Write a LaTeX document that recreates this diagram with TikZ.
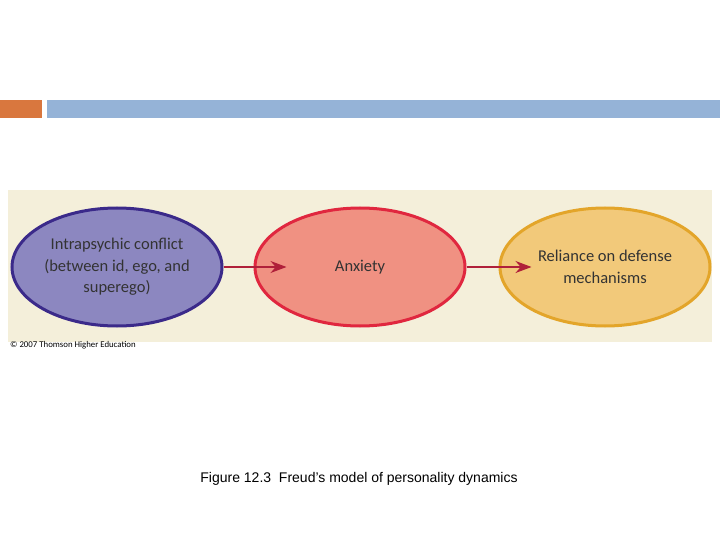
\documentclass[tikz,border=0pt]{standalone}
\usepackage{fontspec}
\setmainfont{Liberation Sans}
\newfontfamily\lab{Carlito}
\usetikzlibrary{arrows.meta,shapes.geometric}
\definecolor{cpur}{HTML}{8C87C0}\definecolor{dpur}{HTML}{3B2A8A}
\definecolor{cred}{HTML}{F09182}\definecolor{dred}{HTML}{E0273F}
\definecolor{cyel}{HTML}{F2C97A}\definecolor{dyel}{HTML}{E3A52A}
\definecolor{beige}{HTML}{F4EFDA}\definecolor{arr}{HTML}{B0203A}
\definecolor{band}{HTML}{95B3D7}\definecolor{orng}{HTML}{D9773E}
\tikzset{ell/.style={ellipse,inner sep=0pt,minimum width=210pt,minimum height=118pt,line width=3pt,align=center,font=\lab\fontsize{16.5}{21.5}\selectfont,text=black!80},
flow/.style={arr,line width=1.5pt,-{Stealth[length=16pt,width=12pt,fill=arr]}}}
\begin{document}
\begin{tikzpicture}[x=1pt,y=-1pt]
\useasboundingbox (0,0) rectangle (720,540);
\fill[white] (0,0) rectangle (720,540);
\fill[orng] (0,100) rectangle (42,118);
\fill[band] (47,100) rectangle (720,118);
\fill[beige] (8,190) rectangle (712,342);
\node[ell,fill=cpur,draw=dpur] (a) at (117,267) {Intrapsychic conflict\\(between id, ego, and\\superego)};
\node[ell,fill=cred,draw=dred] (b) at (360,267) {Anxiety};
\node[ell,fill=cyel,draw=dyel] (c) at (605,267) {Reliance on defense\\mechanisms};
\draw[flow] (a.east) -- ([xshift=33pt]b.west);
\draw[flow] (b.east) -- ([xshift=33pt]c.west);
\node[anchor=north west,inner sep=0pt,font=\lab\fontsize{8.8}{10}\selectfont] (cr) at (10,341) {\textcopyright\ 2007 Thomson Higher Education};
\node[font=\fontsize{14}{16}\selectfont] (cap) at (359,479) {Figure 12.3\ \ Freud's model of personality dynamics};
\end{tikzpicture}
\end{document}
